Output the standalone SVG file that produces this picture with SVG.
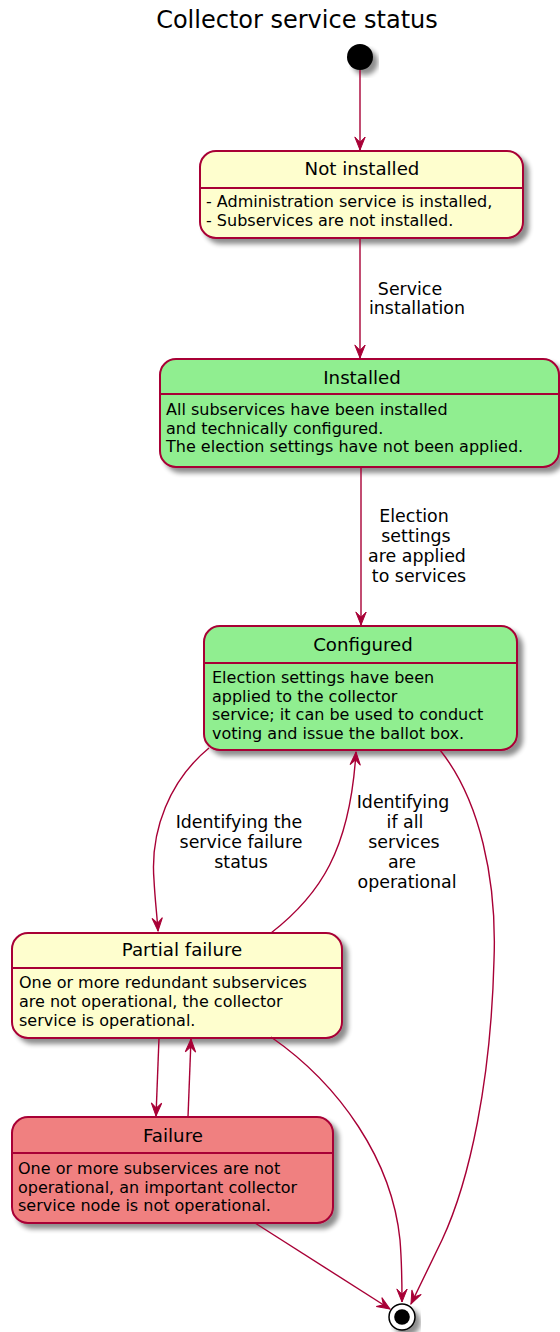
<svg xmlns="http://www.w3.org/2000/svg" width="560" height="1332" viewBox="0 0 560 1332">
  <defs>
    <filter id="shadow" x="-10%" y="-10%" width="130%" height="140%">
      <feGaussianBlur in="SourceAlpha" stdDeviation="2.6" result="blur"/>
      <feOffset in="blur" dx="5" dy="5" result="off"/>
      <feComponentTransfer in="off" result="soft">
        <feFuncA type="linear" slope="0.45"/>
      </feComponentTransfer>
      <feMerge>
        <feMergeNode in="soft"/>
        <feMergeNode in="SourceGraphic"/>
      </feMerge>
    </filter>
    <marker id="arrow" viewBox="-14 -7 16 14" refX="0" refY="0" markerWidth="16" markerHeight="14" markerUnits="userSpaceOnUse" orient="auto">
      <path d="M0,0 L-13,-5.2 L-7.8,0 L-13,5.2 Z" fill="#A80036" stroke="#A80036" stroke-width="1"/>
    </marker>
  </defs>
  <style>
    text { font-family: "DejaVu Sans", "Liberation Sans", sans-serif; fill: #000; }
    .title { font-size: 24px; text-anchor: middle; }
    .name { font-size: 18.2px; text-anchor: middle; }
    .body { font-size: 16px; }
    .lbl { font-size: 17.4px; text-anchor: middle; }
    .box { stroke: #A80036; stroke-width: 2; filter: url(#shadow); }
    .div { stroke: #A80036; stroke-width: 2; }
    .yellow { fill: #FEFECE; }
    .green { fill: #90EE90; }
    .red { fill: #F08080; }
    .edge { fill: none; stroke: #A80036; stroke-width: 1.4; marker-end: url(#arrow); }
  </style>

  <rect width="560" height="1332" fill="#FFFFFF"/>

  <text class="title" x="297" y="28">Collector service status</text>

  <!-- initial pseudo-state -->
  <g id="start">
    <circle cx="360" cy="57" r="13" fill="#000" filter="url(#shadow)"/>
  </g>

  <g id="not-installed">
    <rect class="box yellow" x="200" y="151" width="323" height="87" rx="16" ry="16"/>
    <line class="div" x1="200" y1="188" x2="523" y2="188"/>
    <text class="name" x="362" y="175">Not installed</text>
    <text class="body" x="206" y="207">- Administration service is installed,</text>
    <text class="body" x="206" y="226">- Subservices are not installed.</text>
  </g>

  <g id="installed">
    <rect class="box green" x="160" y="359" width="399" height="108" rx="16" ry="16"/>
    <line class="div" x1="160" y1="394" x2="559" y2="394"/>
    <text class="name" x="362" y="384">Installed</text>
    <text class="body" x="166" y="415">All subservices have been installed</text>
    <text class="body" x="166" y="434">and technically configured.</text>
    <text class="body" x="166" y="452">The election settings have not been applied.</text>
  </g>

  <g id="configured">
    <rect class="box green" x="204" y="626" width="313" height="124" rx="16" ry="16"/>
    <line class="div" x1="204" y1="663" x2="517" y2="663"/>
    <text class="name" x="363" y="651">Configured</text>
    <text class="body" x="212" y="683">Election settings have been</text>
    <text class="body" x="212" y="702">applied to the collector</text>
    <text class="body" x="212" y="720">service; it can be used to conduct</text>
    <text class="body" x="212" y="739">voting and issue the ballot box.</text>
  </g>

  <g id="partial-failure">
    <rect class="box yellow" x="12" y="933" width="330" height="105" rx="16" ry="16"/>
    <line class="div" x1="12" y1="968" x2="342" y2="968"/>
    <text class="name" x="182" y="956">Partial failure</text>
    <text class="body" x="19" y="988">One or more redundant subservices</text>
    <text class="body" x="19" y="1007">are not operational, the collector</text>
    <text class="body" x="19" y="1026">service is operational.</text>
  </g>

  <g id="failure">
    <rect class="box red" x="12" y="1117" width="321" height="106" rx="16" ry="16"/>
    <line class="div" x1="12" y1="1153" x2="333" y2="1153"/>
    <text class="name" x="173" y="1142">Failure</text>
    <text class="body" x="18" y="1174">One or more subservices are not</text>
    <text class="body" x="18" y="1193">operational, an important collector</text>
    <text class="body" x="18" y="1211">service node is not operational.</text>
  </g>

  <!-- final pseudo-state -->
  <g id="end">
    <g filter="url(#shadow)">
      <circle cx="402" cy="1317" r="13" fill="#FFFFFF" stroke="#000" stroke-width="1.5"/>
      <circle cx="402" cy="1317" r="7.8" fill="#000"/>
    </g>
  </g>

  <g id="connectors">
    <path class="edge" d="M360,70 L360,150"/>
    <path class="edge" d="M360,238 L360,358"/>
    <path class="edge" d="M361,467 L361,625"/>
    <path class="edge" d="M209,748 C170,780 150,830 154,880 C155,900 157,915 158,931"/>
    <path class="edge" d="M271,933 C320,895 350,850 356,752"/>
    <path class="edge" d="M440,750 C480,800 497,880 494,960 C491,1080 470,1180 442,1240 C430,1265 420,1285 411,1304"/>
    <path class="edge" d="M159,1038 L156,1116"/>
    <path class="edge" d="M188,1117 L191,1039"/>
    <path class="edge" d="M271,1037 C340,1085 392,1160 400,1240 C402,1265 402,1285 402,1302"/>
    <path class="edge" d="M255,1223 L390,1309"/>

    <text class="lbl" x="410" y="295">Service</text>
    <text class="lbl" x="417" y="314">installation</text>

    <text class="lbl" x="414" y="522">Election</text>
    <text class="lbl" x="416" y="542">settings</text>
    <text class="lbl" x="417" y="562">are applied</text>
    <text class="lbl" x="419" y="582">to services</text>

    <text class="lbl" x="239" y="828">Identifying the</text>
    <text class="lbl" x="241" y="848">service failure</text>
    <text class="lbl" x="241" y="868">status</text>

    <text class="lbl" x="403" y="808">Identifying</text>
    <text class="lbl" x="405" y="828">if all</text>
    <text class="lbl" x="404" y="848">services</text>
    <text class="lbl" x="402" y="868">are</text>
    <text class="lbl" x="407" y="888">operational</text>
  </g>
</svg>
